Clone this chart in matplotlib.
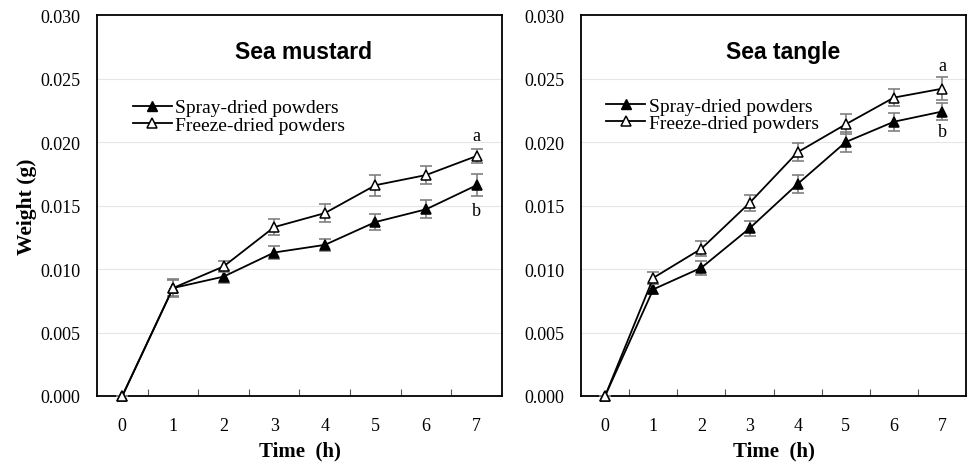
import matplotlib
matplotlib.use("Agg")
import matplotlib.pyplot as plt
from matplotlib.lines import Line2D
import numpy as np

hours = [0, 1, 2, 3, 4, 5, 6, 7]

# Sea mustard
mustard_spray = [0, 0.0085, 0.0094, 0.0113, 0.0119, 0.0137, 0.0147, 0.0166]
mustard_spray_err = [0, 0.0006, 0.0005, 0.0005, 0.00045, 0.0006, 0.0007, 0.00087]
mustard_freeze = [0, 0.0085, 0.0102, 0.0133, 0.0144, 0.0166, 0.0174, 0.0189]
mustard_freeze_err = [0, 0.0007, 0.00047, 0.0006, 0.0007, 0.00084, 0.0007, 0.00052]

# Sea tangle
tangle_spray = [0, 0.0084, 0.0101, 0.0132, 0.0167, 0.0200, 0.0216, 0.0224]
tangle_spray_err = [0, 0.0004, 0.00055, 0.0006, 0.0007, 0.0008, 0.0007, 0.0007]
tangle_freeze = [0, 0.0093, 0.0116, 0.0152, 0.0192, 0.0214, 0.0235, 0.0242]
tangle_freeze_err = [0, 0.0005, 0.0006, 0.00065, 0.0007, 0.0008, 0.0007, 0.0009]

yticks = [0.000, 0.005, 0.010, 0.015, 0.020, 0.025, 0.030]
ytick_labels = ["0.000", "0.005", "0.010", "0.015", "0.020", "0.025", "0.030"]

serif = "Liberation Serif"
sans = "Liberation Sans"


def draw_panel(ax, title, spray, spray_err, freeze, freeze_err, a_y, b_y, title_x, leg_x, leg_y):
    for y in yticks[1:-1]:
        ax.axhline(y, color="#e6e6e6", lw=0.8, zorder=0)
    for vals, errs, face, z in [(spray, spray_err, "black", 3), (freeze, freeze_err, "white", 4)]:
        ax.errorbar(hours, vals, yerr=errs, fmt="none", ecolor="#808080",
                    elinewidth=1.2, capsize=4, capthick=1.2, zorder=z)
        ax.plot(hours, vals, color="black", marker="^", ms=7, mfc=face, mec="black",
                mew=1.1, lw=1.3, zorder=z + 0.5, clip_on=False)
    ax.set_xlim(-0.5, 7.5)
    ax.set_ylim(0, 0.030)
    ax.set_xticks(hours)
    ax.set_xticklabels([str(h) for h in hours], fontfamily=serif, fontsize=13)
    ax.set_xticks(np.arange(0.5, 7, 1), minor=True)
    ax.tick_params(axis="x", which="major", length=0, pad=15)
    ax.tick_params(axis="x", which="minor", direction="in", length=5, width=0.8, color="#555555")
    ax.set_yticks(yticks)
    ax.set_yticklabels(ytick_labels, fontfamily=serif, fontsize=13)
    ax.tick_params(axis="y", length=0, pad=12)
    for s in ax.spines.values():
        s.set_linewidth(1.3)
    ax.set_xlabel("Time  (h)", fontfamily=serif, fontweight="bold", fontsize=15, labelpad=5)
    ax.text(title_x, 0.905, title, transform=ax.transAxes, ha="center", va="center",
            fontfamily=sans, fontweight="bold", fontsize=16.5)
    ax.text(7, a_y, "a", ha="center", va="center", fontfamily=serif, fontsize=13)
    ax.text(7, b_y, "b", ha="center", va="center", fontfamily=serif, fontsize=13)
    handles = [
        Line2D([], [], color="black", marker="^", ms=7, mfc="black", mec="black", lw=1.3),
        Line2D([], [], color="black", marker="^", ms=7, mfc="white", mec="black", mew=1.1, lw=1.3),
    ]
    ax.legend(handles, ["Spray-dried powders", "Freeze-dried powders"], loc="upper left",
              bbox_to_anchor=(leg_x, leg_y), frameon=False,
              prop={"family": serif, "size": 14}, handlelength=2.0,
              handletextpad=0.2, labelspacing=0.0, borderpad=0, borderaxespad=0)


fig = plt.figure(figsize=(9.7, 4.64), dpi=100)
ax1 = fig.add_axes([0.100, 0.1444, 0.4175, 0.821])
ax2 = fig.add_axes([0.599, 0.1444, 0.397, 0.821])

draw_panel(ax1, "Sea mustard", mustard_spray, mustard_spray_err, mustard_freeze,
           mustard_freeze_err, 0.0205, 0.0146, 0.51, 0.088, 0.78)
draw_panel(ax2, "Sea tangle", tangle_spray, tangle_spray_err, tangle_freeze,
           tangle_freeze_err, 0.0260, 0.0208, 0.525, 0.066, 0.785)

ax1.set_ylabel("Weight (g)", fontfamily=serif, fontweight="bold", fontsize=15.5, labelpad=2)

fig.savefig("out.png", dpi=100)
